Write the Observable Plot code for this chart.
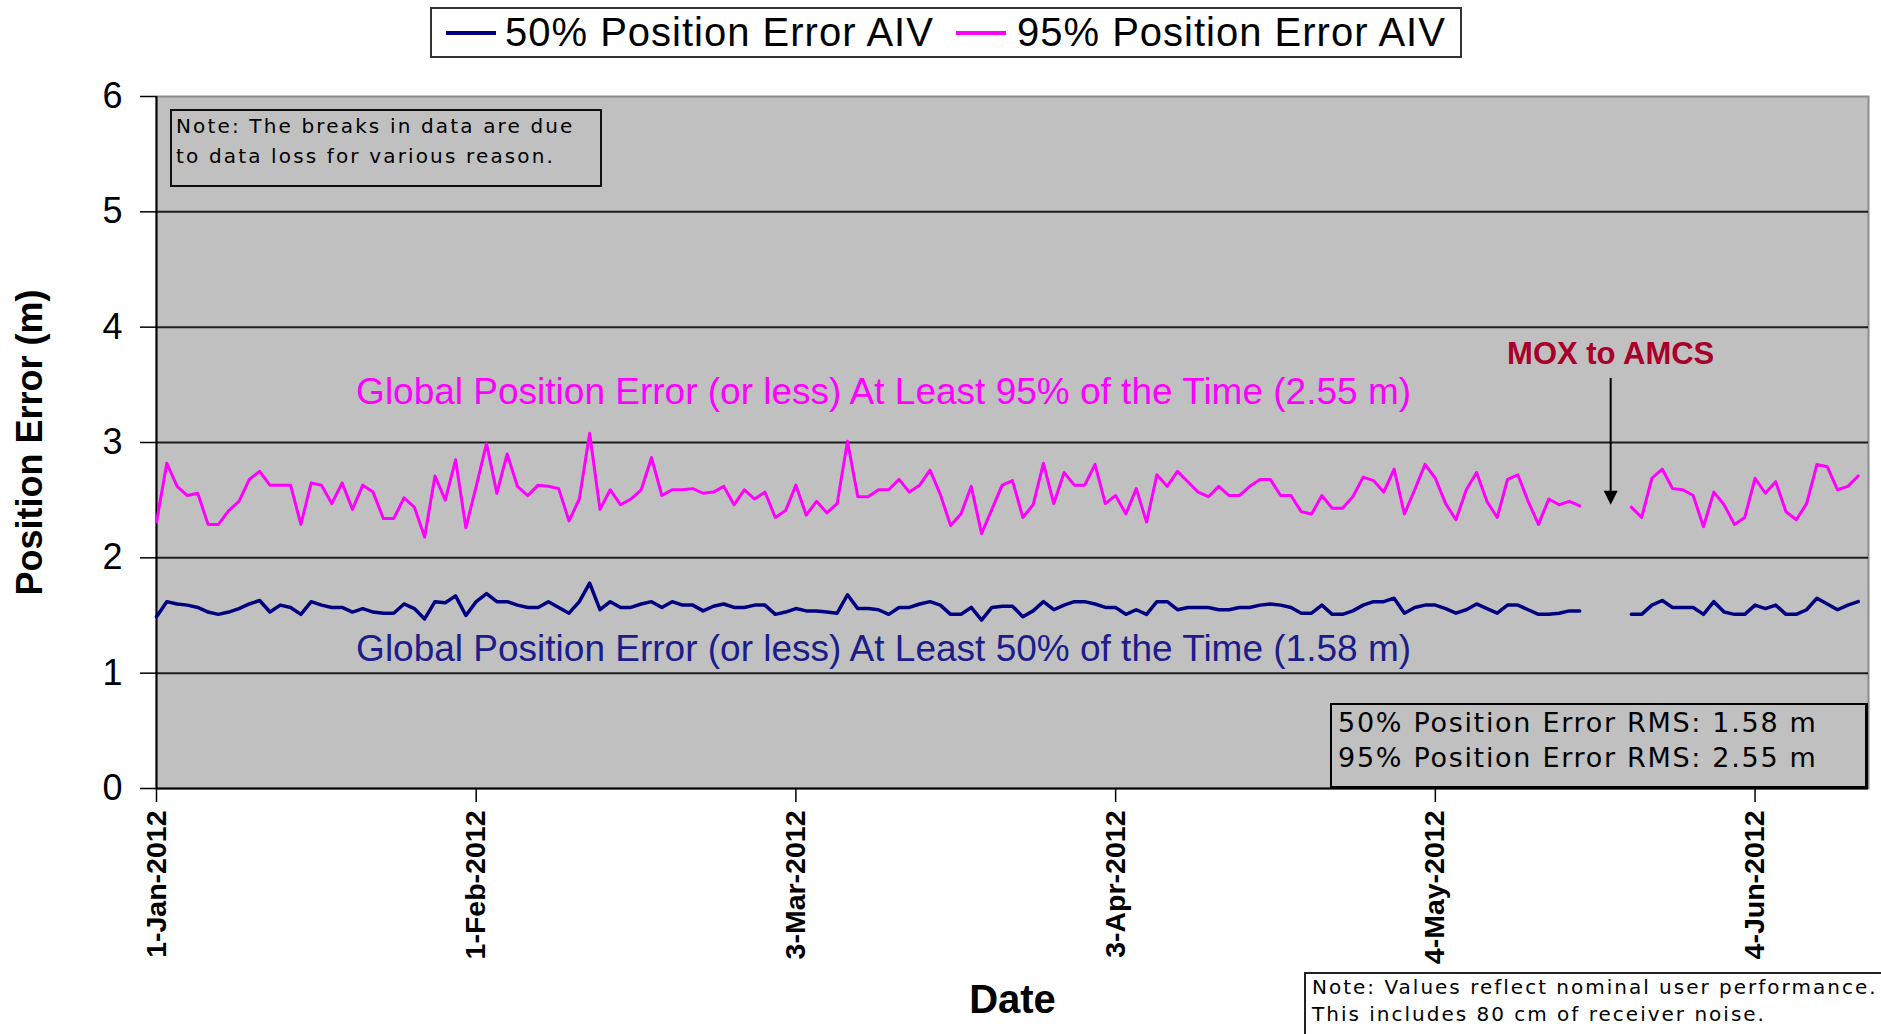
<!DOCTYPE html>
<html>
<head>
<meta charset="utf-8">
<script src="https://cdn.jsdelivr.net/npm/d3@7"></script>
<script src="https://cdn.jsdelivr.net/npm/@observablehq/plot@0.6"></script>
<style>
  html, body { margin: 0; padding: 0; background: #fff; }
  #wrap { position: relative; width: 1881px; height: 1034px; overflow: hidden; background: #fff; }
  #wrap svg { position: absolute; left: 0; top: 0; }
  .box { position: absolute; box-sizing: border-box; }
  .legend { left: 430px; top: 7px; width: 1032px; height: 51px; border: 2px solid #333; background: #fff;
            font-family: "Liberation Sans", Arial, sans-serif; font-size: 40px; letter-spacing: 1px; color: #000; }
  .legend .sw { position: absolute; top: 22px; width: 50px; height: 4px; }
  .legend .tx { position: absolute; top: 0; line-height: 46px; white-space: nowrap; }
  .note1 { left: 170px; top: 109px; width: 432px; height: 78px; border: 2px solid #111;
           font-family: "DejaVu Sans", Verdana, sans-serif; font-size: 20px; letter-spacing: 2.15px;
           line-height: 30px; padding-left: 4px; color: #000; white-space: nowrap; }
  .rms { left: 1330px; top: 703px; width: 538px; height: 86px; border: 2px solid #000; border-right-width: 3px; border-bottom-width: 3px;
         font-family: "DejaVu Sans", Verdana, sans-serif; font-size: 27px; letter-spacing: 1.7px;
         line-height: 35px; padding-left: 6px; color: #000; white-space: nowrap; }
  .note2 { left: 1304px; top: 972px; width: 620px; height: 90px; border: 2px solid #222; background: #fff;
           font-family: "DejaVu Sans", Verdana, sans-serif; font-size: 20px; letter-spacing: 2px;
           line-height: 27px; padding-left: 6px; padding-top: 0; color: #000; white-space: nowrap; }
</style>
</head>
<body>
<div id="wrap"></div>
<script>
// ---- data ----
const startDate = "2012-01-01";   // first daily value
const domainEnd = "2012-06-15";
const xTickDates = ["2012-01-01", "2012-02-01", "2012-03-03", "2012-04-03", "2012-05-04", "2012-06-04"];
const yTicks = [0, 1, 2, 3, 4, 5, 6];
const gridLines = [1, 2, 3, 4, 5];

const seriesNames = ["50% Position Error AIV", "95% Position Error AIV"];

// 95% position error, one value per day (null = data loss)
const pe95 = [
  2.31, 2.82, 2.62, 2.54, 2.56, 2.29, 2.29, 2.41, 2.49, 2.68,
  2.75, 2.63, 2.63, 2.63, 2.29, 2.65, 2.63, 2.47, 2.65, 2.42,
  2.63, 2.57, 2.34, 2.34, 2.52, 2.44, 2.18, 2.71, 2.50, 2.85,
  2.26, 2.62, 2.99, 2.56, 2.90, 2.62, 2.54, 2.63, 2.62, 2.60,
  2.32, 2.51, 3.08, 2.42, 2.59, 2.46, 2.51, 2.59, 2.87, 2.54,
  2.59, 2.59, 2.60, 2.56, 2.57, 2.62, 2.46, 2.59, 2.51, 2.57,
  2.35, 2.41, 2.63, 2.37, 2.49, 2.39, 2.47, 3.01, 2.53, 2.53,
  2.59, 2.59, 2.68, 2.57, 2.63, 2.76, 2.55, 2.28, 2.38, 2.62,
  2.21, 2.42, 2.63, 2.67, 2.35, 2.46, 2.82, 2.47, 2.74, 2.63,
  2.63, 2.81, 2.47, 2.54, 2.38, 2.60, 2.31, 2.72, 2.62, 2.75,
  2.66, 2.57, 2.53, 2.62, 2.54, 2.54, 2.62, 2.68, 2.68, 2.54,
  2.54, 2.40, 2.38, 2.54, 2.43, 2.43, 2.53, 2.70, 2.67, 2.57,
  2.77, 2.38, 2.59, 2.81, 2.69, 2.47, 2.33, 2.59, 2.74, 2.49,
  2.35, 2.68, 2.72, 2.49, 2.29, 2.51, 2.46, 2.49, 2.45, null,
  null, null, null, 2.44, 2.35, 2.69, 2.77, 2.60, 2.59, 2.54,
  2.27, 2.57, 2.46, 2.29, 2.35, 2.69, 2.56, 2.66, 2.40, 2.33,
  2.47, 2.81, 2.79, 2.59, 2.62, 2.71
];

// 50% position error, one value per day (null = data loss)
const pe50 = [
  1.49, 1.62, 1.60, 1.59, 1.57, 1.53, 1.51, 1.53, 1.56, 1.60,
  1.63, 1.53, 1.59, 1.57, 1.51, 1.62, 1.59, 1.57, 1.57, 1.53,
  1.56, 1.53, 1.52, 1.52, 1.60, 1.56, 1.47, 1.62, 1.61, 1.67,
  1.50, 1.62, 1.69, 1.62, 1.62, 1.59, 1.57, 1.57, 1.62, 1.57,
  1.52, 1.62, 1.78, 1.55, 1.62, 1.57, 1.57, 1.60, 1.62, 1.57,
  1.62, 1.59, 1.59, 1.54, 1.58, 1.60, 1.57, 1.57, 1.59, 1.59,
  1.51, 1.53, 1.56, 1.54, 1.54, 1.53, 1.52, 1.68, 1.56, 1.56,
  1.55, 1.51, 1.57, 1.57, 1.60, 1.62, 1.59, 1.51, 1.51, 1.57,
  1.46, 1.57, 1.58, 1.58, 1.49, 1.54, 1.62, 1.55, 1.59, 1.62,
  1.62, 1.60, 1.57, 1.57, 1.51, 1.55, 1.51, 1.62, 1.62, 1.55,
  1.57, 1.57, 1.57, 1.55, 1.55, 1.57, 1.57, 1.59, 1.60, 1.59,
  1.57, 1.52, 1.52, 1.59, 1.51, 1.51, 1.54, 1.59, 1.62, 1.62,
  1.65, 1.52, 1.57, 1.59, 1.59, 1.56, 1.52, 1.55, 1.60, 1.56,
  1.52, 1.59, 1.59, 1.55, 1.51, 1.51, 1.52, 1.54, 1.54, null,
  null, null, null, 1.51, 1.51, 1.59, 1.63, 1.57, 1.57, 1.57,
  1.51, 1.62, 1.53, 1.51, 1.51, 1.59, 1.56, 1.59, 1.51, 1.51,
  1.55, 1.65, 1.60, 1.55, 1.59, 1.62
];

const label95 = "Global Position Error (or less) At Least 95% of the Time (2.55 m)";
const label50 = "Global Position Error (or less) At Least 50% of the Time (1.58 m)";
const eventLabel = "MOX to AMCS";
const eventDate = "2012-05-21";
const noteTop = ["Note: The breaks in data are due", "to data loss for various reason."];
const rmsLines = ["50% Position Error RMS: 1.58 m", "95% Position Error RMS: 2.55 m"];
const noteBottom = ["Note: Values reflect nominal user performance.", "This includes 80 cm of receiver noise."];

const colors = {p50: "#000080", p95: "#FF00FF"};

// ---- build tables ----
const t0 = new Date(startDate);
const day = (i) => d3.utcDay.offset(t0, i);
const rows95 = pe95.map((v, i) => ({date: day(i), value: v}));
const rows50 = pe50.map((v, i) => ({date: day(i), value: v}));
const xDomain = [t0, new Date(domainEnd)];
const annotDate = new Date("2012-03-11T12:00:00Z");
const evDate = new Date(eventDate);

// downward filled triangle with its tip at the anchor point
const downTriangle = {
  draw(ctx) { ctx.moveTo(-7, -14); ctx.lineTo(7, -14); ctx.lineTo(0, 0); ctx.closePath(); }
};

const chart = Plot.plot({
  width: 1881,
  height: 1034,
  marginTop: 96,
  marginRight: 13,
  marginBottom: 246,
  marginLeft: 156,
  style: {fontFamily: "'Liberation Sans', Arial, sans-serif", background: "transparent", overflow: "visible", color: "black"},
  x: {type: "utc", domain: xDomain},
  y: {domain: [0, 6]},
  marks: [
    Plot.frame({fill: "#C0C0C0", stroke: "#8c8c8c", strokeWidth: 2}),
    Plot.ruleY(gridLines, {stroke: "#1e1e1e", strokeWidth: 2}),
    Plot.ruleY([0], {stroke: "#000", strokeWidth: 2}),
    Plot.ruleX([t0], {stroke: "#000", strokeWidth: 2}),
    Plot.axisY({ticks: yTicks, tickFormat: d => String(d), tickSize: 16, tickPadding: 18, fontSize: 36,
                color: "black", strokeWidth: 1.5, label: null}),
    Plot.axisX({ticks: xTickDates.map(s => new Date(s)), tickFormat: d3.utcFormat("%-d-%b-%Y"),
                tickSize: 14, tickPadding: 8, tickRotate: -90, fontSize: 28.5, fontWeight: "bold",
                color: "black", strokeWidth: 1.5, label: null}),
    Plot.line(rows95, {x: "date", y: "value", stroke: colors.p95, strokeWidth: 3}),
    Plot.line(rows50, {x: "date", y: "value", stroke: colors.p50, strokeWidth: 3.5}),
    Plot.text([label95], {x: () => annotDate, y: () => 3.44, text: d => d, fill: colors.p95, fontSize: 37}),
    Plot.text([label50], {x: () => annotDate, y: () => 1.21, text: d => d, fill: "#1c1c8a", fontSize: 37}),
    Plot.text([eventLabel], {x: () => evDate, y: () => 3.77, text: d => d, fill: "#A8002A", fontSize: 31, fontWeight: "bold"}),
    Plot.link([eventLabel], {x1: () => evDate, x2: () => evDate, y1: () => 3.56, y2: () => 2.56, stroke: "black", strokeWidth: 2}),
    Plot.dot([eventLabel], {x: () => evDate, y: () => 2.46, symbol: downTriangle, fill: "black", stroke: "none"}),
    Plot.text(["Position Error (m)"], {frameAnchor: "left", textAnchor: "middle", dx: -126, rotate: -90,
                                        text: d => d, fontSize: 36, fontWeight: "bold"}),
    Plot.text(["Date"], {frameAnchor: "bottom", dy: 224, text: d => d, fontSize: 40, fontWeight: "bold"})
  ]
});

const wrap = document.getElementById("wrap");
wrap.appendChild(chart);

// legend (above the plot area)
const legend = document.createElement("div");
legend.className = "box legend";
const items = [
  {name: seriesNames[0], color: colors.p50, sw: 14, tx: 73},
  {name: seriesNames[1], color: colors.p95, sw: 524, tx: 585}
];
for (const it of items) {
  const sw = document.createElement("div");
  sw.className = "sw"; sw.style.left = it.sw + "px"; sw.style.background = it.color;
  const tx = document.createElement("div");
  tx.className = "tx"; tx.style.left = it.tx + "px"; tx.textContent = it.name;
  legend.appendChild(sw); legend.appendChild(tx);
}
wrap.appendChild(legend);

function textBox(cls, lines) {
  const b = document.createElement("div");
  b.className = "box " + cls;
  for (const l of lines) { const d = document.createElement("div"); d.textContent = l; b.appendChild(d); }
  wrap.appendChild(b);
}
textBox("note1", noteTop);
textBox("rms", rmsLines);
textBox("note2", noteBottom);
</script>
</body>
</html>
